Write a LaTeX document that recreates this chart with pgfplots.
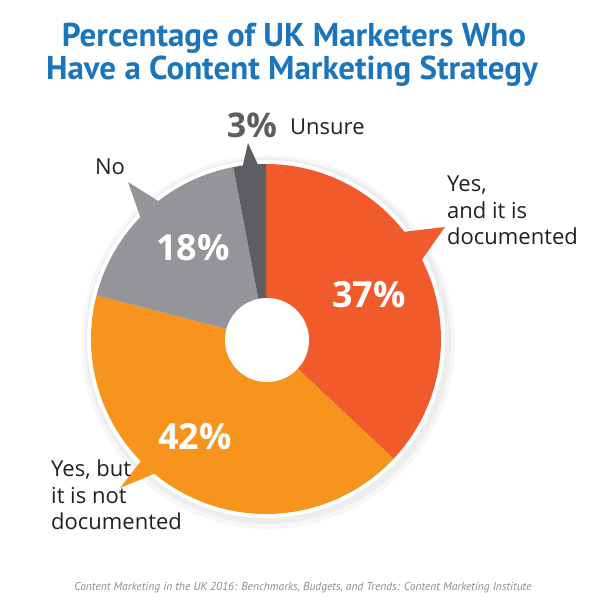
\documentclass[border=0pt]{standalone}
\usepackage{pgfplots}
\pgfplotsset{compat=1.18}
\usepackage{fontspec}
\setmainfont{Open Sans}
\newfontfamily\titlefont{PT Sans}
\newfontfamily\footfont{PT Sans}
\definecolor{cTitle}{HTML}{1B75BB}
\definecolor{cRed}{HTML}{F15A2B}
\definecolor{cOrange}{HTML}{F7941D}
\definecolor{cGray}{HTML}{939598}
\definecolor{cDark}{HTML}{5D5E61}
\definecolor{cText}{HTML}{231F20}
\definecolor{cFoot}{HTML}{8A8C8E}
% shares (percent), clockwise from 12 o'clock
\def\pA{37}\def\pB{42}\def\pC{18}\def\pD{3}
\def\cx{266}\def\cy{272}\def\R{175}
\begin{document}
\begin{tikzpicture}
\begin{axis}[width=600pt, height=611pt, scale only axis, at={(0,0)}, anchor=south west,
  xmin=0, xmax=600, ymin=0, ymax=611, hide axis, clip=false]
% soft drop shadow and white rim
\addplot[draw=none, fill=black!3, domain=0:360, samples=120, variable=\t] ({\cx+2+187*cos(\t)},{\cy-3+187*sin(\t)}) -- cycle;
\addplot[draw=none, fill=black!7, domain=0:360, samples=120, variable=\t] ({\cx+2+183*cos(\t)},{\cy-2+183*sin(\t)}) -- cycle;
\addplot[draw=none, fill=white, domain=0:360, samples=120, variable=\t] ({\cx+179*cos(\t)},{\cy+179*sin(\t)}) -- cycle;
% slices
\addplot[draw=none, fill=cRed, domain={90-3.6*\pA}:90, samples=80, variable=\t] ({\cx+\R*cos(\t)},{\cy+\R*sin(\t)}) -- (\cx,\cy) -- cycle;
\addplot[draw=none, fill=cOrange, domain={90-3.6*(\pA+\pB)}:{90-3.6*\pA}, samples=80, variable=\t] ({\cx+\R*cos(\t)},{\cy+\R*sin(\t)}) -- (\cx,\cy) -- cycle;
\addplot[draw=none, fill=cGray, domain={90-3.6*(\pA+\pB+\pC)}:{90-3.6*(\pA+\pB)}, samples=60, variable=\t] ({\cx+\R*cos(\t)},{\cy+\R*sin(\t)}) -- (\cx,\cy) -- cycle;
\addplot[draw=none, fill=cDark, domain={90-3.6*(\pA+\pB+\pC+\pD)}:{90-3.6*(\pA+\pB+\pC)}, samples=20, variable=\t] ({\cx+\R*cos(\t)},{\cy+\R*sin(\t)}) -- (\cx,\cy) -- cycle;
% callout pointers
\addplot[draw=none, fill=cRed] coordinates {(394,378) (421,350) (445,384)} -- cycle;
\addplot[draw=none, fill=cOrange] coordinates {(141,150) (161,140) (120,123)} -- cycle;
\addplot[draw=none, fill=cGray] coordinates {(163,407) (142,389) (128,429)} -- cycle;
\addplot[draw=none, fill=cDark] coordinates {(242,442) (260,442) (248,468)} -- cycle;
% hole
\addplot[draw=none, fill=white, domain=0:360, samples=100, variable=\t] ({267+42*cos(\t)},{271+42*sin(\t)}) -- cycle;
% value labels
\node[text=white, font=\bfseries\fontsize{36}{36}\selectfont] at (axis cs:369,316) {37\%};
\node[text=white, font=\bfseries\fontsize{36}{36}\selectfont] at (axis cs:195,174) {42\%};
\node[text=white, font=\bfseries\fontsize{36}{36}\selectfont] at (axis cs:193,363) {18\%};
\node[text=cDark, font=\bfseries\fontsize{34}{34}\selectfont] at (axis cs:252,486) {3\%};
% category labels
\node[text=cText, anchor=west, inner sep=0pt, font=\fontsize{22}{26}\selectfont] at (axis cs:290,484) {Unsure};
\node[text=cText, inner sep=0pt, font=\fontsize{22}{26}\selectfont] at (axis cs:110,444) {No};
\node[text=cText, anchor=north west, align=left, inner sep=0pt, font=\fontsize{22}{26.5}\selectfont] at (axis cs:447,435) {Yes,\\and it is\\documented};
\node[text=cText, anchor=north west, align=left, inner sep=0pt, font=\fontsize{22}{26.5}\selectfont] at (axis cs:51,151) {Yes, but\\it is not\\documented};
% title
\node[text=cTitle, font=\titlefont\bfseries\fontsize{33}{33}\selectfont] at (axis cs:294,573) {Percentage of UK Marketers Who};
\node[text=cTitle, font=\titlefont\bfseries\fontsize{33}{33}\selectfont] at (axis cs:292,540) {Have a Content Marketing Strategy};
% source
\node[text=cFoot, font=\footfont\itshape\fontsize{11.5}{12}\selectfont] at (axis cs:303,23) {Content Marketing in the UK 2016: Benchmarks, Budgets, and Trends: Content Marketing Institute};
\end{axis}
\pgfresetboundingbox
\path (0,0) rectangle (600pt,611pt);
\end{tikzpicture}
\end{document}
